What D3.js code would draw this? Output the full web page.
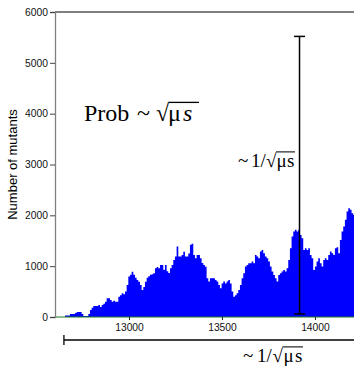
<!DOCTYPE html>
<html>
<head>
<meta charset="utf-8">
<script src="https://cdn.jsdelivr.net/npm/d3@7"></script>
<style>
  html, body { margin: 0; padding: 0; background: #fff; }
  svg { display: block; }
</style>
</head>
<body>
<svg id="chart" width="354" height="366"></svg>
<script>
// ---- data ----
const binStart = 12602;
const binWidth = 8.96;
const counts = [
  0,0,0,0,0,0,30,30,30,60,60,60,80,100,100,100,60,20,20,20,60,
  140,180,215,215,215,235,195,235,260,300,370,370,335,300,320,300,300,
  400,430,465,450,500,630,795,830,890,830,770,730,695,630,530,590,695,770,800,
  830,840,860,960,985,960,1025,1025,930,1025,900,865,960,1025,1120,1190,1385,1190,1190,1220,
  1285,1190,1190,1250,1420,1440,1220,1155,1220,1220,1155,1060,1025,990,760,700,760,760,760,730,
  700,630,565,660,700,660,700,730,660,500,400,430,465,530,630,760,860,
  991,1024,1057,1057,1090,1057,1221,1188,1156,1287,1320,1254,1188,1156,1090,991,893,827,762,696,
  827,860,893,926,893,959,1123,1353,1583,1681,1714,1681,1714,1615,1550,1320,1353,1320,1353,1221,
  1156,926,991,1090,1156,1057,991,1123,1156,1123,1221,1287,1254,1221,1353,1373,1254,1517,1681,1779,
  1911,2075,2141,2108,2043,2009
];
const yTicks = [0, 1000, 2000, 3000, 4000, 5000, 6000];
const xTicks = [13000, 13500, 14000];
const vBar = { x: 13917, y0: 60, y1: 5520 };
const hBar = { x0: 12650, x1: 14600 };

// ---- layout ----
const svg = d3.select("#chart");
const x = d3.scaleLinear().domain([12602, 14210]).range([55, 354]);
const y = d3.scaleLinear().domain([0, 6000]).range([317, 12]);
const xRight = x(14500);

const bins = counts.map((c, i) => ({ x0: binStart + i * binWidth, v: c }));
bins.push({ x0: binStart + counts.length * binWidth, v: counts[counts.length - 1] });

// histogram
const area = d3.area()
  .x(d => x(d.x0))
  .y0(y(0))
  .y1(d => y(d.v))
  .curve(d3.curveStepAfter);
svg.append("path").datum(bins).attr("d", area).attr("fill", "#0000ff");

// green baseline
svg.append("line")
  .attr("x1", x(12602)).attr("x2", xRight)
  .attr("y1", y(0)).attr("y2", y(0))
  .attr("stroke", "#1a7a1a").attr("stroke-width", 1.2);

// top frame line
svg.append("line")
  .attr("x1", x(12602)).attr("x2", xRight)
  .attr("y1", y(6000)).attr("y2", y(6000))
  .attr("stroke", "#000").attr("stroke-width", 1);

// y axis
const yAxis = svg.append("g").attr("transform", `translate(${x(12602)},0)`)
  .call(d3.axisLeft(y).tickValues(yTicks).tickSize(5).tickPadding(2).tickFormat(d3.format("d")));
yAxis.select(".domain").attr("stroke", "#808080").attr("stroke-width", 1.3);
yAxis.selectAll(".tick line").attr("stroke", "#444");
yAxis.selectAll("text").attr("font-family", "Liberation Sans, Arial, sans-serif").attr("font-size", 10.3).attr("fill", "#111");

// x axis ticks
const xAxis = svg.append("g").attr("transform", `translate(0,${y(0)})`)
  .call(d3.axisBottom(x).tickValues(xTicks).tickSize(3).tickPadding(4).tickFormat(d3.format("d")));
xAxis.select(".domain").remove();
xAxis.selectAll(".tick line").attr("stroke", "#222");
xAxis.selectAll("text").attr("font-family", "Liberation Sans, Arial, sans-serif").attr("font-size", 10.3).attr("fill", "#111");

// y label
svg.append("text")
  .attr("transform", `translate(17,${(y(0) + y(6000)) / 2}) rotate(-90)`)
  .attr("text-anchor", "middle")
  .attr("font-family", "Liberation Sans, Arial, sans-serif")
  .attr("font-size", 13)
  .text("Number of mutants");

// vertical error bar
svg.append("line").attr("x1", x(vBar.x)).attr("x2", x(vBar.x))
  .attr("y1", y(vBar.y0)).attr("y2", y(vBar.y1))
  .attr("stroke", "#000").attr("stroke-width", 1.5);
[vBar.y0, vBar.y1].forEach(v => {
  svg.append("line").attr("x1", x(vBar.x) - 5.5).attr("x2", x(vBar.x) + 5.5)
    .attr("y1", y(v)).attr("y2", y(v)).attr("stroke", "#000").attr("stroke-width", 1.5);
});

// horizontal bar
const hy = 340;
svg.append("line").attr("x1", x(hBar.x0)).attr("x2", x(hBar.x1))
  .attr("y1", hy).attr("y2", hy).attr("stroke", "#000").attr("stroke-width", 1.3);
svg.append("line").attr("x1", x(hBar.x0)).attr("x2", x(hBar.x0))
  .attr("y1", hy - 5).attr("y2", hy + 5).attr("stroke", "#000").attr("stroke-width", 1.3);

// math labels: parts positioned like typeset math, with radical overbar
function mathLabel(x0, baseY, size, parts, barTo) {
  const g = svg.append("g")
    .attr("font-family", "Liberation Serif, Times New Roman, serif")
    .attr("font-size", size);
  parts.forEach(p => {
    g.append("text").attr("x", x0 + p.dx).attr("y", baseY)
      .attr("font-style", p.italic ? "italic" : "normal")
      .text(p.t);
  });
  const rad = g.selectAll("text").filter(function () { return this.textContent === "√"; }).node();
  const bb = rad.getBBox();
  const barY = bb.y + size * 0.1;
  g.append("line")
    .attr("x1", bb.x + bb.width - 1).attr("x2", x0 + barTo)
    .attr("y1", barY).attr("y2", barY)
    .attr("stroke", "#000").attr("stroke-width", size * 0.055);
}
mathLabel(84, 121, 24, [
  { t: "Prob", dx: 0 }, { t: "~", dx: 53 }, { t: "√", dx: 72 }, { t: "μ", dx: 84 }, { t: "s", dx: 99, italic: true }
], 115);
mathLabel(238, 167, 19, [
  { t: "~", dx: 0 }, { t: "1/", dx: 13 }, { t: "√", dx: 28 }, { t: "μ", dx: 38.5 }, { t: "s", dx: 49 }
], 57);
mathLabel(243, 362, 19, [
  { t: "~", dx: 0 }, { t: "1/", dx: 14 }, { t: "√", dx: 29.5 }, { t: "μ", dx: 40.5 }, { t: "s", dx: 52 }
], 60);
</script>
</body>
</html>
